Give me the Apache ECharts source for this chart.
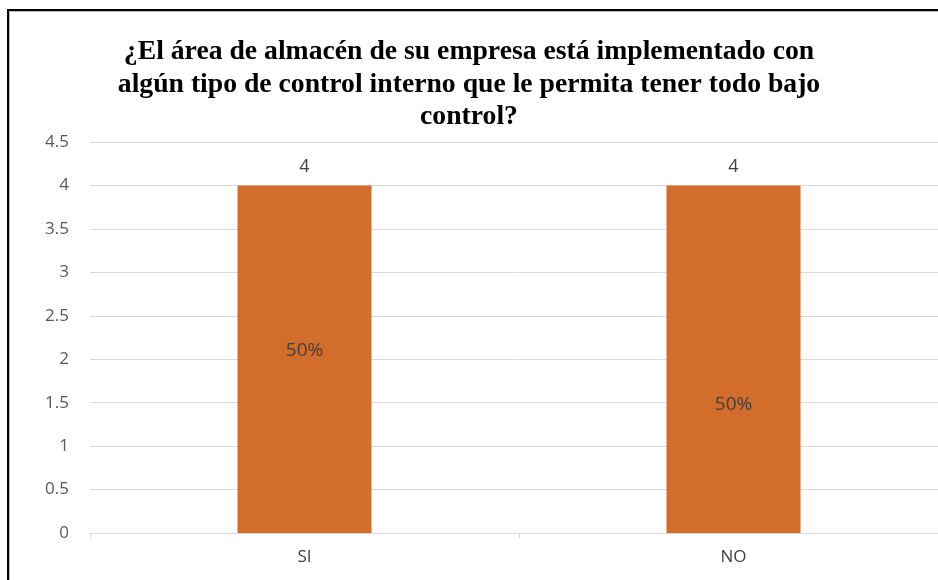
<!DOCTYPE html>
<html>
<head>
<meta charset="utf-8">
<script src="https://cdn.jsdelivr.net/npm/echarts@6/dist/echarts.min.js"></script>
<style>
html,body{margin:0;padding:0;background:#fff;}
#chart{width:938px;height:580px;position:absolute;left:0;top:0;}
#frame{position:absolute;left:7px;top:9px;width:1000px;height:700px;border-left:2px solid #000;border-top:2px solid #000;box-shadow:inset 1px 1px 0 #bbb;pointer-events:none;}
</style>
</head>
<body>
<div id="chart"></div>
<div id="frame"></div>
<script>
const titleLines = ["¿El área de almacén de su empresa está implementado con", "algún tipo de control interno que le permita tener todo bajo", "control?"];
const categories = ["SI", "NO"];
const values = [4, 4];
const percentLabels = ["50%", "50%"];
const yTicks = { min: 0, max: 4.5, interval: 0.5 };

const chart = echarts.init(document.getElementById('chart'), null, { renderer: 'canvas' });
const pctOffsets = [[0, -9], [0, 45]];
chart.setOption({
  animation: false,
  title: {
    text: titleLines.join('\n'),
    left: 464,
    top: 31,
    textAlign: 'center',
    textStyle: {
      fontFamily: 'Liberation Serif',
      fontWeight: 'bold',
      fontSize: 27.7,
      lineHeight: 32.5,
      color: '#000'
    }
  },
  grid: { left: 90, width: 858, top: 142, bottom: 47, containLabel: false, outerBoundsMode: 'none' },
  xAxis: {
    type: 'category',
    data: categories,
    boundaryGap: true,
    axisLine: { lineStyle: { color: '#d9d9d9', width: 1 } },
    axisTick: { show: true, length: 5, lineStyle: { color: '#d9d9d9' } },
    axisLabel: { color: '#404040', fontFamily: 'Open Sans', fontSize: 17, margin: 16 }
  },
  yAxis: {
    type: 'value',
    min: yTicks.min,
    max: yTicks.max,
    interval: yTicks.interval,
    axisLine: { show: false },
    axisTick: { show: false },
    splitLine: { lineStyle: { color: '#d9d9d9', width: 1 } },
    axisLabel: { color: '#595959', fontFamily: 'Open Sans', fontSize: 17, margin: 21 }
  },
  series: [
    {
      type: 'bar',
      data: values,
      barWidth: 134,
      itemStyle: { color: '#D36D2C' },
      label: {
        show: true,
        position: 'top',
        distance: 10,
        color: '#404040',
        fontFamily: 'Open Sans',
        fontSize: 18
      },
      z: 2
    },
    {
      type: 'bar',
      data: values.map((v, i) => ({
        value: v,
        label: { offset: pctOffsets[i], formatter: percentLabels[i] }
      })),
      barWidth: 134,
      barGap: '-100%',
      itemStyle: { color: 'transparent' },
      label: {
        show: true,
        position: 'inside',
        color: '#404040',
        fontFamily: 'Open Sans',
        fontSize: 19
      },
      z: 3
    }
  ]
});
</script>
</body>
</html>
